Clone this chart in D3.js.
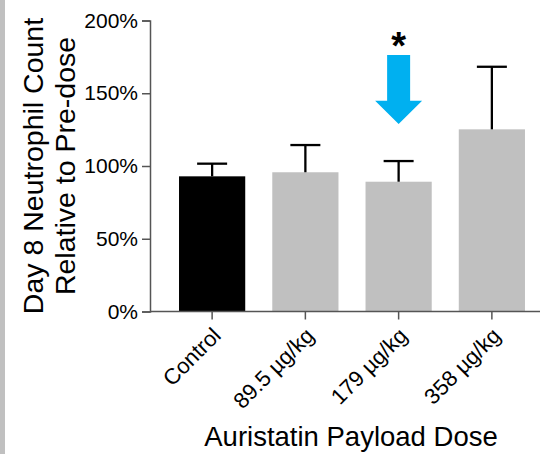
<!DOCTYPE html>
<html>
<head>
<meta charset="utf-8">
<script src="https://cdn.jsdelivr.net/npm/d3@7"></script>
<style>
  body { margin: 0; background: #fff; }
  text { font-family: "Liberation Sans", Arial, sans-serif; }
</style>
</head>
<body>
<div id="chart"></div>
<script>
// data
const groups = ["Control", "89.5 µg/kg", "179 µg/kg", "358 µg/kg"]
const means = [92.9, 95.7, 89.2, 125.2]
const upperErr = [101.6, 114.4, 103.4, 168.2]
const barColors = ["#000000", "#c0c0c0", "#c0c0c0", "#c0c0c0"]
const yTicks = [0, 50, 100, 150, 200]
const starGroup = "179 µg/kg"

const width = 540
const height = 454

const svg = d3.select("#chart").append("svg")
  .attr("width", width)
  .attr("height", height)

// grey strip on the left edge
svg.append("rect")
  .attr("x", 0).attr("y", 0)
  .attr("width", 5).attr("height", height)
  .attr("fill", "#c0c0c0")

const x = d3.scaleBand()
  .domain(groups)
  .range([165.5, 538.5])
  .paddingInner(0.29)
  .paddingOuter(0.145)

const y = d3.scaleLinear()
  .domain([0, 200])
  .range([311.5, 20.5])

// bars
svg.append("g")
  .selectAll("rect")
  .data(groups)
  .enter()
  .append("rect")
  .attr("x", d => x(d))
  .attr("width", x.bandwidth())
  .attr("y", (d, i) => y(means[i]))
  .attr("height", (d, i) => y(0) - y(means[i]))
  .attr("fill", (d, i) => barColors[i])

// error bars, upper only
const err = svg.append("g")
  .attr("stroke", "#000")
  .attr("stroke-width", 2.3)
groups.forEach((g, i) => {
  const cx = x(g) + x.bandwidth() / 2
  err.append("line")
    .attr("x1", cx).attr("x2", cx)
    .attr("y1", y(means[i])).attr("y2", y(upperErr[i]))
  err.append("line")
    .attr("x1", cx - 15).attr("x2", cx + 15)
    .attr("y1", y(upperErr[i])).attr("y2", y(upperErr[i]))
})

// y axis
const yAxis = svg.append("g")
  .attr("transform", "translate(150,0)")
  .call(d3.axisLeft(y).tickValues(yTicks).tickFormat(d => d + "%").tickSize(8).tickPadding(4))
yAxis.select(".domain").attr("stroke", "#555").attr("stroke-width", 1.5)
yAxis.selectAll(".tick line").attr("stroke", "#555").attr("stroke-width", 1.5)
yAxis.selectAll(".tick text")
  .attr("font-size", 21)
  .attr("fill", "#000")
  .style("font-family", "'Liberation Sans', Arial, sans-serif")

// x axis
const xAxis = svg.append("g")
  .attr("transform", `translate(0,${y(0)})`)
  .call(d3.axisBottom(x).tickSize(8).tickSizeOuter(0))
xAxis.select(".domain")
  .attr("d", `M150,0H${width}`)
  .attr("stroke", "#555").attr("stroke-width", 1.5)
xAxis.selectAll(".tick line").attr("stroke", "#555").attr("stroke-width", 1.5)
xAxis.selectAll(".tick text")
  .attr("font-size", 22)
  .attr("fill", "#000")
  .style("font-family", "'Liberation Sans', Arial, sans-serif")
  .attr("text-anchor", "end")
  .attr("dy", null)
  .attr("y", 0)
  .attr("transform", "translate(10,25.5) rotate(-45)")

// axis titles
svg.append("text")
  .attr("transform", "translate(43,166) rotate(-90)")
  .attr("text-anchor", "middle")
  .attr("font-size", 28.5)
  .text("Day 8 Neutrophil Count")
svg.append("text")
  .attr("transform", "translate(75,166) rotate(-90)")
  .attr("text-anchor", "middle")
  .attr("font-size", 28.5)
  .text("Relative to Pre-dose")

svg.append("text")
  .attr("x", 351)
  .attr("y", 446)
  .attr("text-anchor", "middle")
  .attr("font-size", 27.5)
  .text("Auristatin Payload Dose")

// significance arrow and asterisk
const ax = x(starGroup) + x.bandwidth() / 2
const arrowTop = y(176.3)
const headBase = y(144.9)
const tip = y(128.9)
svg.append("path")
  .attr("d", `M${ax - 11.5},${arrowTop}H${ax + 11.5}V${headBase}H${ax + 23.5}L${ax},${tip}L${ax - 23.5},${headBase}H${ax - 11.5}Z`)
  .attr("fill", "#00b0f0")

svg.append("text")
  .attr("x", ax)
  .attr("y", 59)
  .attr("text-anchor", "middle")
  .attr("font-size", 38)
  .attr("font-weight", "bold")
  .text("*")
</script>
</body>
</html>
